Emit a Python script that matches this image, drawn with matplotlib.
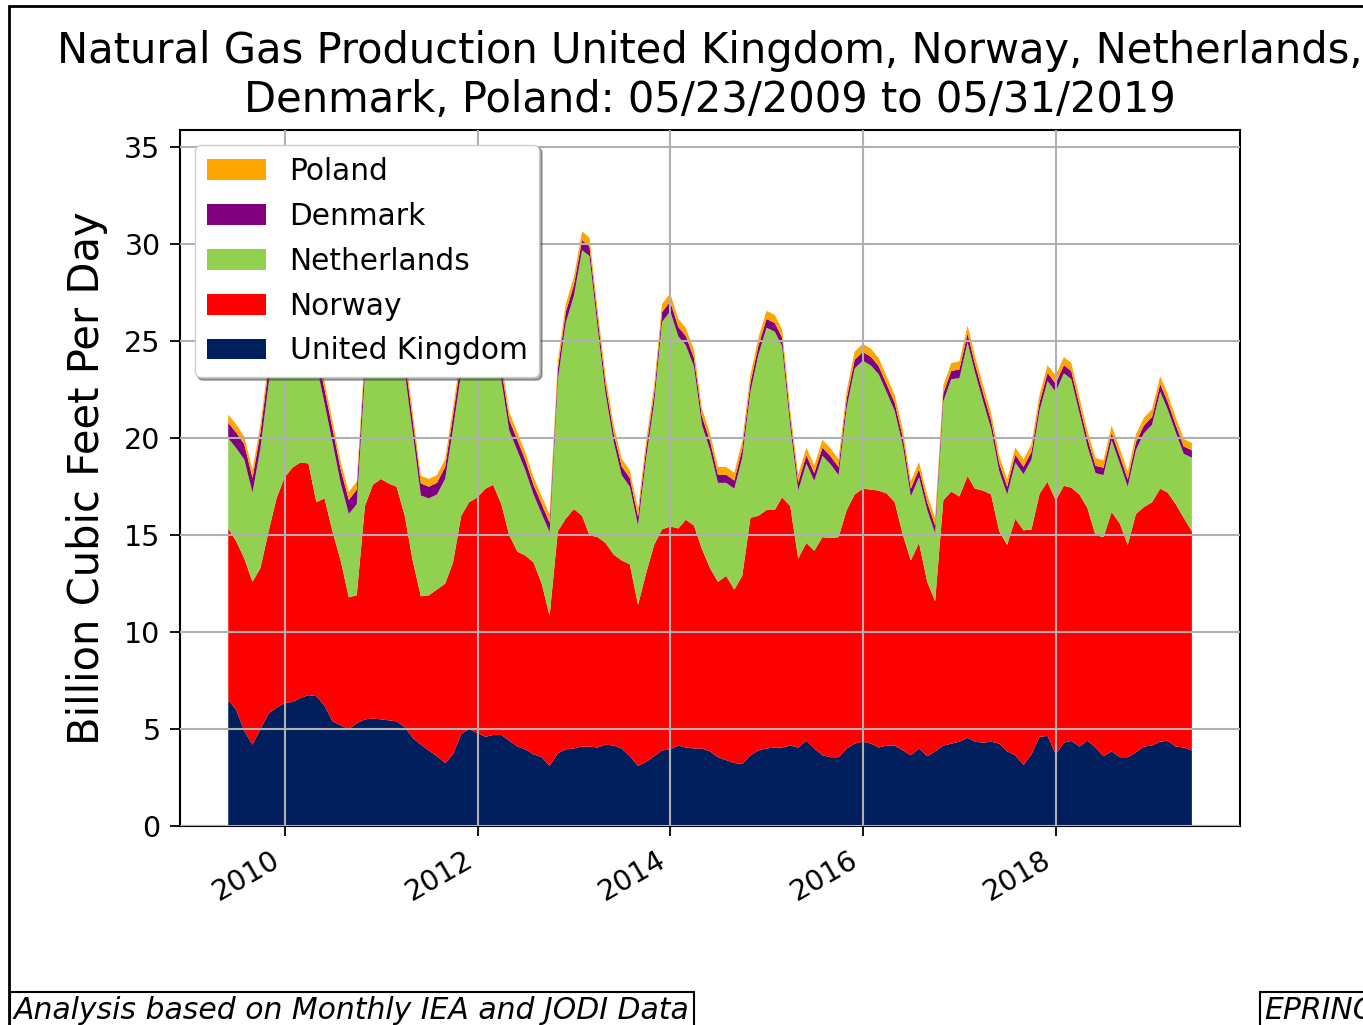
import matplotlib
matplotlib.use("Agg")
import matplotlib.pyplot as plt
from matplotlib.patches import Rectangle
import pandas as pd

# monthly values, billion cubic feet per day, May 2009 .. May 2019
try:
    dates = pd.date_range("2009-05-31", periods=121, freq="ME")
except ValueError:
    dates = pd.date_range("2009-05-31", periods=121, freq="M")

uk = [6.5, 6.0, 4.9, 4.2, 5.0, 5.8, 6.1, 6.35,
      6.4, 6.6, 6.75, 6.7, 6.2, 5.4, 5.2, 5.0, 5.3, 5.5, 5.55, 5.5,
      5.45, 5.4, 5.1, 4.55, 4.2, 3.9, 3.6, 3.25, 3.7, 4.75, 5.0, 4.8,
      4.6, 4.7, 4.7, 4.4, 4.1, 3.95, 3.7, 3.55, 3.1, 3.75, 3.95, 4.0,
      4.1, 4.1, 4.05, 4.2, 4.15, 4.0, 3.6, 3.1, 3.3, 3.6, 3.9, 3.95,
      4.15, 4.05, 4.0, 4.0, 3.85, 3.55, 3.4, 3.25, 3.2, 3.65, 3.9, 4.0,
      4.05, 4.05, 4.15, 4.05, 4.4, 4.0, 3.65, 3.55, 3.55, 4.0, 4.25, 4.35,
      4.25, 4.05, 4.15, 4.15, 3.9, 3.65, 4.0, 3.6, 3.85, 4.15, 4.25, 4.35,
      4.55, 4.35, 4.3, 4.35, 4.25, 3.85, 3.65, 3.15, 3.7, 4.6, 4.65, 3.7,
      4.3, 4.4, 4.1, 4.4, 4.05, 3.6, 3.85, 3.55, 3.55, 3.8, 4.1, 4.15,
      4.35, 4.4, 4.1, 4.05, 3.9]

norway = [8.85, 8.7, 8.9, 8.4, 8.3, 9.4, 10.8, 11.65,
          12.1, 12.15, 11.95, 10.0, 10.7, 9.8, 8.5, 6.8, 6.6, 11.0, 12.05, 12.4,
          12.2, 12.1, 10.9, 9.15, 7.65, 8.0, 8.6, 9.25, 9.9, 11.25, 11.7, 12.15,
          12.8, 12.9, 11.9, 10.6, 10.05, 10.0, 9.9, 8.95, 7.75, 11.45, 11.9, 12.35,
          11.9, 10.9, 10.85, 10.4, 9.85, 9.7, 9.9, 8.3, 9.7, 10.9, 11.4, 11.5,
          11.2, 11.75, 11.5, 10.3, 9.45, 9.05, 9.5, 8.95, 9.7, 12.25, 12.1, 12.3,
          12.25, 12.9, 12.35, 9.75, 10.2, 10.2, 11.25, 11.3, 11.35, 12.3, 12.85, 13.05,
          13.1, 13.25, 13.0, 12.55, 11.1, 10.05, 10.6, 9.0, 7.75, 12.65, 13.0, 12.65,
          13.5, 13.05, 13.0, 12.75, 10.95, 10.65, 12.2, 12.1, 11.6, 12.55, 13.1, 13.1,
          13.25, 13.05, 13.0, 12.0, 10.95, 11.3, 12.35, 12.05, 10.95, 12.3, 12.35, 12.55,
          13.05, 12.8, 12.5, 11.85, 11.3]

netherlands = [4.65, 4.8, 5.1, 4.6, 6.2, 7.6, 8.4, 9.3,
               9.8, 9.1, 7.6, 7.1, 4.9, 4.6, 4.0, 4.3, 4.7, 6.8, 9.2, 11.4,
               11.3, 9.9, 7.4, 6.6, 5.2, 5.0, 4.9, 5.4, 6.9, 7.4, 9.2, 10.0,
               10.1, 8.9, 6.4, 5.4, 5.2, 4.4, 3.5, 3.6, 4.3, 7.8, 10.1, 11.0,
               13.7, 14.4, 10.8, 7.7, 5.8, 4.4, 4.0, 4.1, 5.9, 7.3, 10.7, 11.1,
               9.9, 9.0, 8.2, 6.4, 6.1, 5.1, 4.8, 5.2, 6.1, 6.5, 8.3, 9.4,
               9.2, 7.8, 4.1, 3.5, 4.1, 3.6, 4.2, 3.8, 3.2, 5.3, 6.5, 6.6,
               6.4, 6.0, 5.2, 4.7, 4.6, 3.3, 3.4, 3.7, 3.5, 5.1, 5.8, 6.1,
               6.9, 6.0, 4.6, 3.4, 3.1, 2.6, 2.9, 2.9, 3.6, 4.3, 5.2, 5.6,
               5.8, 5.6, 4.2, 3.2, 3.2, 3.2, 3.7, 3.1, 3.0, 3.3, 3.8, 4.0,
               5.0, 4.3, 3.7, 3.3, 3.8]

denmark = [0.8, 0.8, 0.78, 0.75, 0.78, 0.8, 0.8, 0.8,
           0.78, 0.78, 0.75, 0.75, 0.72, 0.7, 0.7, 0.72, 0.75, 0.75, 0.78, 0.78,
           0.75, 0.72, 0.7, 0.65, 0.62, 0.6, 0.6, 0.62, 0.65, 0.65, 0.65, 0.65,
           0.62, 0.6, 0.58, 0.55, 0.55, 0.52, 0.5, 0.5, 0.5, 0.55, 0.55, 0.55,
           0.52, 0.5, 0.5, 0.48, 0.45, 0.45, 0.45, 0.45, 0.48, 0.48, 0.5, 0.5,
           0.48, 0.48, 0.45, 0.45, 0.45, 0.42, 0.42, 0.42, 0.45, 0.45, 0.45, 0.45,
           0.45, 0.45, 0.45, 0.42, 0.42, 0.4, 0.42, 0.42, 0.42, 0.45, 0.45, 0.45,
           0.45, 0.42, 0.42, 0.42, 0.42, 0.4, 0.4, 0.4, 0.4, 0.42, 0.42, 0.45,
           0.45, 0.42, 0.42, 0.42, 0.4, 0.4, 0.4, 0.38, 0.4, 0.42, 0.42, 0.42,
           0.42, 0.42, 0.4, 0.4, 0.38, 0.38, 0.38, 0.38, 0.38, 0.4, 0.4, 0.4,
           0.4, 0.4, 0.38, 0.38, 0.38]

poland = [0.42, 0.42, 0.4, 0.42, 0.42, 0.42, 0.42, 0.42,
          0.42, 0.42, 0.42, 0.42, 0.4, 0.4, 0.4, 0.4, 0.42, 0.42, 0.42, 0.42,
          0.42, 0.42, 0.42, 0.4, 0.4, 0.4, 0.4, 0.4, 0.42, 0.42, 0.42, 0.42,
          0.42, 0.42, 0.42, 0.4, 0.4, 0.4, 0.4, 0.4, 0.42, 0.42, 0.42, 0.42,
          0.45, 0.45, 0.42, 0.42, 0.4, 0.4, 0.4, 0.4, 0.42, 0.42, 0.42, 0.42,
          0.42, 0.42, 0.42, 0.4, 0.4, 0.4, 0.4, 0.4, 0.42, 0.42, 0.42, 0.42,
          0.42, 0.42, 0.42, 0.4, 0.4, 0.4, 0.4, 0.4, 0.4, 0.42, 0.42, 0.42,
          0.42, 0.42, 0.4, 0.4, 0.4, 0.38, 0.38, 0.38, 0.4, 0.4, 0.4, 0.42,
          0.42, 0.42, 0.4, 0.4, 0.4, 0.38, 0.38, 0.38, 0.4, 0.4, 0.4, 0.42,
          0.42, 0.42, 0.4, 0.4, 0.4, 0.38, 0.38, 0.38, 0.4, 0.4, 0.4, 0.4,
          0.4, 0.4, 0.38, 0.38, 0.38]

labels = ["United Kingdom", "Norway", "Netherlands", "Denmark", "Poland"]
colors = ["#001f5c", "#ff0000", "#92d050", "#800080", "#ffa500"]

fig = plt.figure(figsize=(13.63, 10.25), dpi=100)
ax = fig.add_axes([0.1321, 0.1941, 0.7777, 0.6791])

ax.stackplot(dates, uk, norway, netherlands, denmark, poland,
             labels=labels, colors=colors)
ax.set_ylim(0, 35.9)
ax.grid(True, color="#b0b0b0", lw=1.5)
ax.set_axisbelow(False)

ax.tick_params(labelsize=20.5, length=7, width=1.3, pad=7)
for s in ax.spines.values():
    s.set_linewidth(1.5)
plt.setp(ax.get_xticklabels(), rotation=30, ha="right")

ax.set_title("Natural Gas Production United Kingdom, Norway, Netherlands,\n"
             "Denmark, Poland: 05/23/2009 to 05/31/2019", fontsize=30, pad=13)
ax.set_ylabel("Billion Cubic Feet Per Day", fontsize=30)
ax.yaxis.set_label_coords(-0.068, 0.5)

h, l = ax.get_legend_handles_labels()
leg = ax.legend(h[::-1], l[::-1], loc="upper left", fontsize=21.3,
                shadow=True, framealpha=1, labelspacing=0.54)

fig.text(14 / 1363, 6 / 1025, "Analysis based on Monthly IEA and JODI Data",
         fontsize=21.5, style="italic", va="baseline",
         bbox=dict(boxstyle="square,pad=0.15", fc="white", ec="black", lw=1.5))
fig.text(1264 / 1363, 6 / 1025, "EPRINC", fontsize=21.5, style="italic",
         va="baseline",
         bbox=dict(boxstyle="square,pad=0.15", fc="white", ec="black", lw=1.5))

fig.add_artist(Rectangle((8.5 / 1363, -0.1), 2, 1.1 - 5.5 / 1025,
                         transform=fig.transFigure, fill=False,
                         ec="black", lw=2))

fig.savefig("out.png", dpi=100)
